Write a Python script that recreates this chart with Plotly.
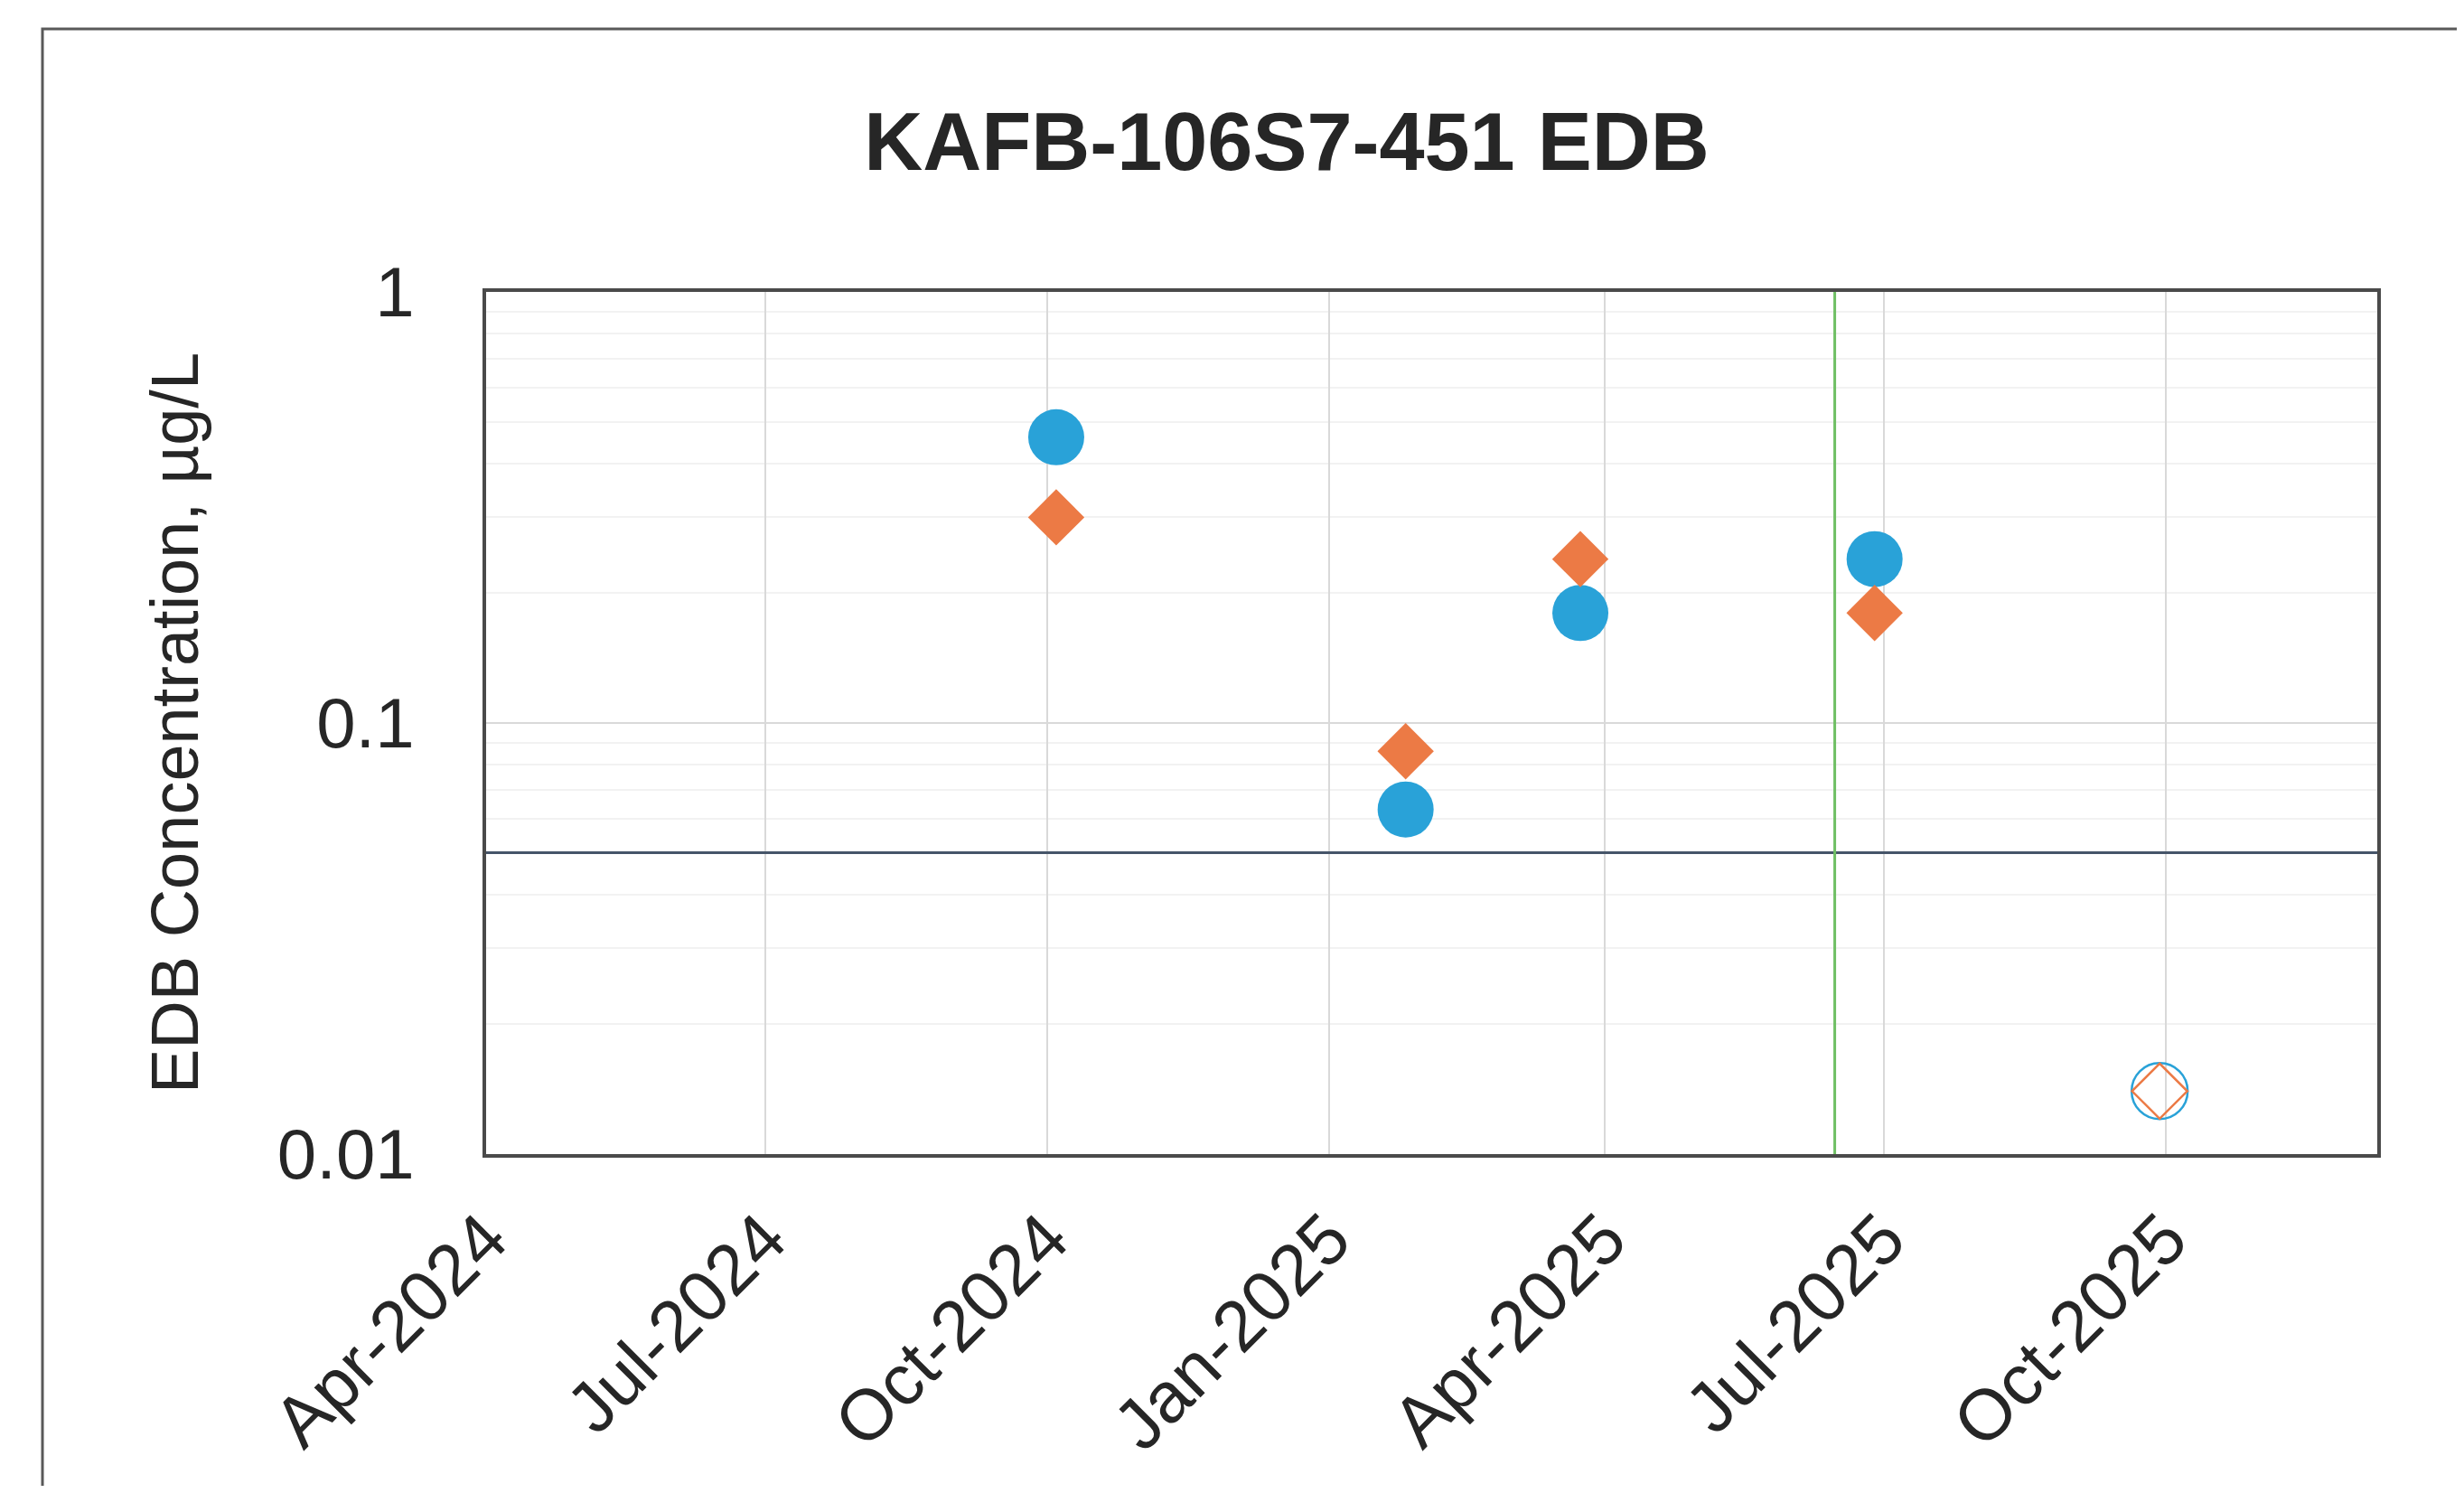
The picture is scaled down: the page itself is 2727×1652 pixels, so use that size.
import plotly.graph_objects as go

# ---- data ----
blue_dates = ["2024-10-04", "2025-01-26", "2025-03-24", "2025-06-28"]
blue_values = [0.46, 0.063, 0.18, 0.24]
orange_dates = ["2024-10-04", "2025-01-26", "2025-03-24", "2025-06-28"]
orange_values = [0.30, 0.086, 0.24, 0.18]
nd_dates = ["2025-09-29"]
nd_blue_values = [0.014]
nd_orange_values = [0.014]
limit_value = 0.05
event_date = "2025-06-15"
x_range = ["2024-04-01", "2025-12-09"]

BLUE = "#29A2D8"
ORANGE = "#EC7A45"

OFF = 8  # page body margin
W, H = 2711, 1636
# target plot area in screenshot pixels: left 538, right 2631, top 323, bottom 1277
L = 538 - OFF
R = OFF + W - 2631
T = 323 - OFF
B = OFF + H - 1277
pw, ph = W - L - R, H - T - B

fig = go.Figure()
fig.add_trace(go.Scatter(x=blue_dates, y=blue_values, mode="markers",
                         marker=dict(symbol="circle", size=62, color=BLUE, line=dict(width=0))))
fig.add_trace(go.Scatter(x=nd_dates, y=nd_blue_values, mode="markers",
                         marker=dict(symbol="circle-open", size=62, color=BLUE, line=dict(width=2.5, color=BLUE))))
fig.add_trace(go.Scatter(x=orange_dates, y=orange_values, mode="markers",
                         marker=dict(symbol="diamond", size=48, color=ORANGE, line=dict(width=0))))
fig.add_trace(go.Scatter(x=nd_dates, y=nd_orange_values, mode="markers",
                         marker=dict(symbol="diamond-open", size=47, color=ORANGE, line=dict(width=2.5, color=ORANGE))))

# reporting limit line and event line
fig.add_shape(type="line", xref="paper", x0=0, x1=1, yref="y", y0=limit_value, y1=limit_value,
              line=dict(color="#465569", width=3), layer="above")
fig.add_shape(type="line", xref="x", x0=event_date, x1=event_date, yref="paper", y0=0, y1=1,
              line=dict(color="#6FBF64", width=3), layer="above")

# outer chart frame (extends past right/bottom edges)
fx0 = (47 - 538) / pw
fx1 = (2850 - 538) / pw
fy1 = (1277 - 32) / ph
fy0 = (1277 - 1750) / ph
fig.add_shape(type="rect", xref="paper", yref="paper", x0=fx0, x1=fx1, y0=fy0, y1=fy1,
              line=dict(color="#595959", width=3), fillcolor="rgba(0,0,0,0)")

fig.update_layout(
    width=W, height=H,
    margin=dict(l=L, r=R, t=T, b=B, autoexpand=False),
    paper_bgcolor="white", plot_bgcolor="white",
    showlegend=False,
    title=dict(text="<b>KAFB-106S7-451 EDB</b>", x=(1424 - OFF) / W, xref="container", xanchor="center",
               y=1 - (156 - OFF) / H, yref="container", yanchor="middle",
               font=dict(family="Liberation Sans, Arial", size=90, color="#262626")),
    font=dict(family="Liberation Sans, Arial", color="#262626"),
)

fig.update_xaxes(
    type="date", range=x_range, tick0="2024-04-01", dtick="M3", tickformat="%b-%Y",
    tickangle=-45, tickfont=dict(size=79, color="#262626"),
    showgrid=True, gridcolor="#D9D9D9", gridwidth=2,
    showline=True, linecolor="#4A4A4A", linewidth=3.5, mirror=True,
    ticks="", ticklabelstandoff=12, zeroline=False,
)
fig.update_yaxes(
    type="log", range=[-2, 0], dtick=1, tickformat="~g",
    tickfont=dict(size=78, color="#262626"),
    showgrid=True, gridcolor="#D9D9D9", gridwidth=2,
    minor=dict(dtick="D1", showgrid=True, gridcolor="#F2F2F2", gridwidth=2),
    showline=True, linecolor="#4A4A4A", linewidth=3.5, mirror=True,
    ticks="", ticklabelstandoff=60, zeroline=False,
    title=dict(text="EDB Concentration, µg/L", font=dict(size=74, color="#262626"), standoff=64),
)

fig.write_html("out.html")
